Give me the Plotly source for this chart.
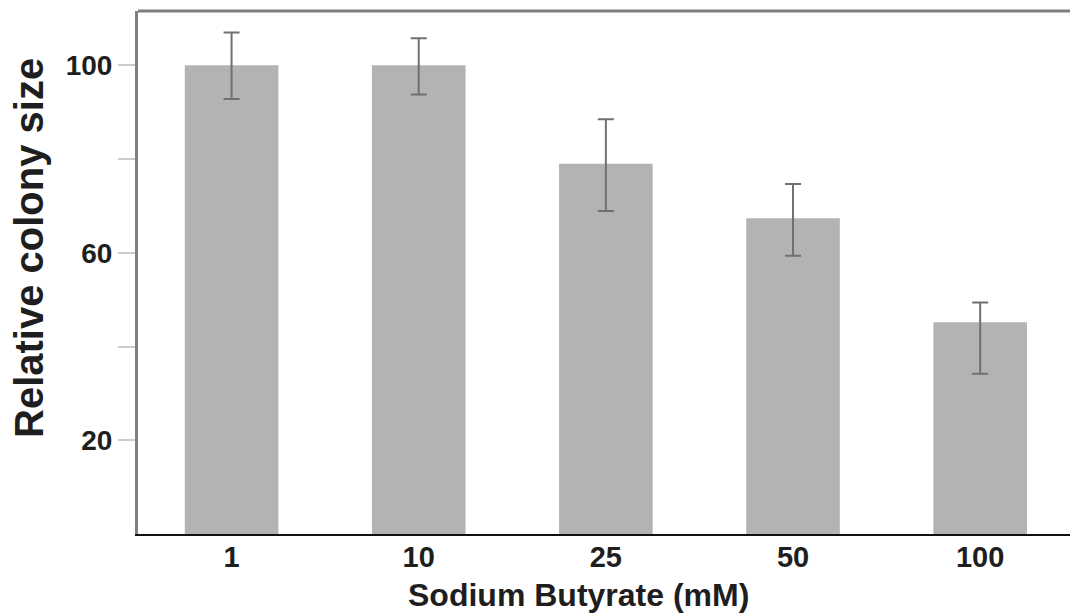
import plotly.graph_objects as go

categories = ["1", "10", "25", "50", "100"]
values = [100, 100, 79, 67.4, 45.2]
err_plus = [7.0, 5.8, 9.5, 7.3, 4.2]
err_minus = [7.2, 6.2, 10.1, 8.0, 11.0]
y_tickvals = [20, 40, 60, 80, 100]
y_ticktext = ["20", "", "60", "", "100"]

FONT = "Liberation Sans, Arial, sans-serif"

fig = go.Figure()
fig.add_trace(go.Bar(
    x=categories, y=values, width=0.5,
    marker=dict(color="#b3b3b3", line=dict(width=0)),
    error_y=dict(type="data", symmetric=False, array=err_plus, arrayminus=err_minus,
                 color="#707070", thickness=2, width=8),
))

fig.update_layout(
    width=1070, height=615,
    margin=dict(l=138, r=0, t=11, b=81),
    paper_bgcolor="white", plot_bgcolor="white",
    showlegend=False,
    font=dict(family=FONT, color="#1e1e1e"),
    xaxis=dict(
        type="category", range=[-0.5, 4.48],
        showline=True, linecolor="#111111", linewidth=2,
        ticks="", showgrid=False, zeroline=False,
        ticklabelstandoff=-4,
        tickfont=dict(family=FONT, size=29, color="#1e1e1e", weight="bold"),
    ),
    yaxis=dict(
        range=[0, 111.6],
        tickvals=y_tickvals, ticktext=y_ticktext,
        ticks="outside", ticklen=17, tickwidth=2, tickcolor="#cccccc",
        showline=True, linecolor="#7f7f7f", linewidth=3,
        showgrid=False, zeroline=False,
        tickfont=dict(family=FONT, size=28, color="#1e1e1e", weight="bold"),
    ),
    shapes=[dict(type="line", xref="paper", yref="paper", x0=0, x1=1, y0=1, y1=1,
                 line=dict(color="#7f7f7f", width=3))],
    annotations=[
        dict(text="<b>Sodium Butyrate (mM)</b>", xref="paper", yref="paper",
             x=(578 - 138) / 932, y=-(595 - 534) / 523, xanchor="center", yanchor="middle",
             showarrow=False, font=dict(family=FONT, size=32, color="#1e1e1e")),
        dict(text="<b>Relative colony size</b>", xref="paper", yref="paper",
             x=-(138 - 29) / 932, y=(534 - 248) / 523, xanchor="center", yanchor="middle",
             textangle=-90, showarrow=False, font=dict(family=FONT, size=40, color="#1e1e1e")),
    ],
)

fig.write_html("out.html")
